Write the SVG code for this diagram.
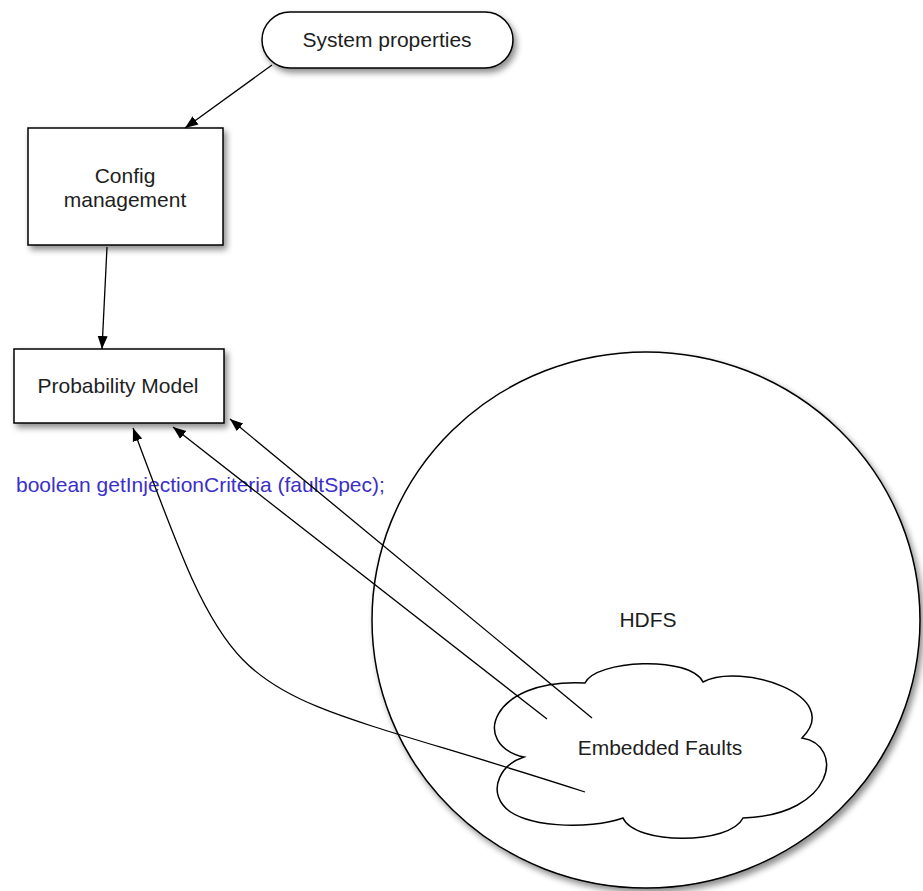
<svg xmlns="http://www.w3.org/2000/svg" width="923" height="891" viewBox="0 0 923 891">
  <style>
    .shape { fill: #ffffff; stroke: #000000; stroke-width: 1.5; }
    .label { font-family: "Liberation Sans", Arial, sans-serif; font-size: 21px; fill: #1e1e1e; text-anchor: middle; }
    .code { font-family: "Liberation Sans", Arial, sans-serif; font-size: 21px; fill: #3a30c8; }
    .conn { fill: none; stroke: #000000; stroke-width: 1.3; }
  </style>
  <defs>
    <filter id="shadow" x="-10%" y="-10%" width="130%" height="130%">
      <feDropShadow dx="3" dy="4" stdDeviation="3" flood-color="#000000" flood-opacity="0.45"/>
    </filter>
    <marker id="arrow" markerWidth="14" markerHeight="12" refX="13" refY="6" orient="auto" markerUnits="userSpaceOnUse">
      <path d="M0,1 L13,6 L0,11 Z" fill="#000000"/>
    </marker>
  </defs>

  <g id="hdfs">
    <ellipse class="shape" cx="646" cy="620" rx="274" ry="268" filter="url(#shadow)"/>
    <text class="label" x="648" y="627">HDFS</text>
  </g>

  <g id="embedded-faults">
    <path class="shape" d="M524,757 C470,745 490,678 585,683 C595,660 690,655 703,682 C740,662 845,695 802,738 C845,745 835,815 743,818 C730,845 635,845 623,818 C590,830 520,828 503,805 C490,788 500,765 524,757 Z"/>
    <text class="label" x="660" y="755">Embedded Faults</text>
  </g>

  <g id="system-properties">
    <rect class="shape" x="262" y="12" width="251" height="56" rx="28" ry="28" filter="url(#shadow)"/>
    <text class="label" x="387" y="47">System properties</text>
  </g>

  <g id="config-management">
    <rect class="shape" x="28" y="128" width="195" height="117" filter="url(#shadow)"/>
    <text class="label" x="125" y="183">Config</text>
    <text class="label" x="125" y="207">management</text>
  </g>

  <g id="probability-model">
    <rect class="shape" x="14" y="349" width="210" height="74" filter="url(#shadow)"/>
    <text class="label" x="118" y="393">Probability Model</text>
  </g>

  <g id="code-label">
    <text class="code" x="16" y="492">boolean getInjectionCriteria (faultSpec);</text>
  </g>

  <g id="connectors">
    <line class="conn" x1="272" y1="65" x2="185" y2="128" marker-end="url(#arrow)"/>
    <line class="conn" x1="107" y1="247" x2="102" y2="349" marker-end="url(#arrow)"/>
    <path class="conn" d="M585,792 C222,674 245,729 133,428" marker-end="url(#arrow)"/>
    <line class="conn" x1="547" y1="719" x2="173" y2="427" marker-end="url(#arrow)"/>
    <line class="conn" x1="592" y1="718" x2="230" y2="419" marker-end="url(#arrow)"/>
  </g>
</svg>
